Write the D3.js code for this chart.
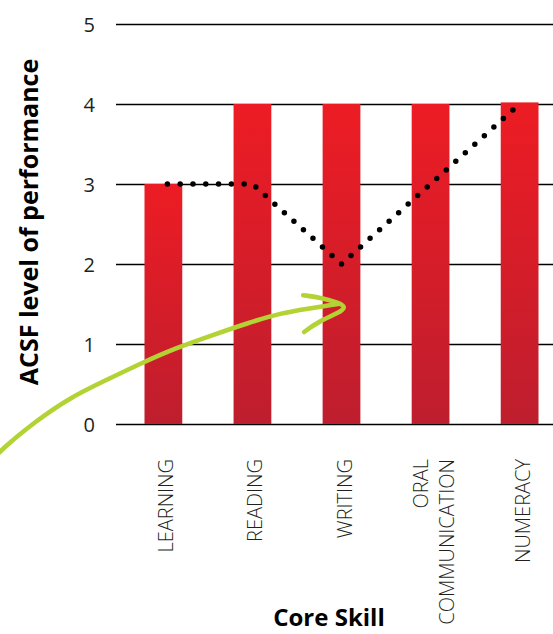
<!DOCTYPE html>
<html>
<head>
<meta charset="utf-8">
<script src="https://cdn.jsdelivr.net/npm/d3@7"></script>
<style>
  body { margin: 0; background: #fff; }
  text { font-family: "Open Sans", "DejaVu Sans", sans-serif; }
</style>
</head>
<body>
<svg id="chart" width="553" height="634"></svg>
<script>
"use strict";

// data
var skills = ["LEARNING", "READING", "WRITING", "ORAL\nCOMMUNICATION", "NUMERACY"]
var barLevels = [3, 4, 4, 4, 4.02]
var profileLevels = [3, 3, 2, 3, 4]
var levelTicks = [0, 1, 2, 3, 4, 5]

// hand drawn arrow, as [skill index, level]
var arrowShaft = [[-1.95, -0.48], [-1.8, -0.3], [-1.44, 0.03], [-1.05, 0.33], [-0.64, 0.55],
    [-0.25, 0.76], [0.14, 0.95], [0.55, 1.11], [0.94, 1.26], [1.33, 1.39], [1.61, 1.44], [1.96, 1.5]]
var arrowHead = [[1.57, 1.61], [1.78, 1.58], [1.98, 1.51], [2.05, 1.46], [1.97, 1.39],
    [1.74, 1.28], [1.58, 1.15]]

var svg = d3.select("#chart")
var width = +svg.attr("width")

var x = d3.scaleBand()
    .domain(skills)
    .range([116, 567])
    .paddingInner(0.576)
    .paddingOuter(0.32)

var y = d3.scaleLinear().domain([0, 5]).range([424, 24])

// skill index -> bar centre, for the line and the arrow
var xi = d3.scaleLinear()
    .domain([0, skills.length - 1])
    .range([x(skills[0]) + x.bandwidth() / 2, x(skills[skills.length - 1]) + x.bandwidth() / 2])

var defs = svg.append("defs")
var grad = defs.append("linearGradient")
    .attr("id", "barGrad")
    .attr("x1", 0).attr("y1", 0).attr("x2", 0).attr("y2", 1)
grad.append("stop").attr("offset", "0%").attr("stop-color", "#ED1C24")
grad.append("stop").attr("offset", "100%").attr("stop-color", "#BE1E2E")

// grid + level labels
var yAxis = d3.axisLeft(y)
    .tickValues(levelTicks)
    .tickSize(-(width - 116))
    .tickPadding(21)
    .tickFormat(d3.format("d"))

var gy = svg.append("g")
    .attr("transform", "translate(116,0)")
    .call(yAxis)
gy.select(".domain").remove()
gy.selectAll(".tick line").attr("stroke", "#000").attr("stroke-width", 1.4)
gy.selectAll(".tick text")
    .attr("fill", "#231F20")
    .style("font-size", "20px")
    .style("font-family", "'Open Sans', sans-serif")
    .attr("dy", "0.36em")

// bars
svg.append("g").selectAll("rect")
    .data(skills)
    .join("rect")
    .attr("x", d => x(d))
    .attr("width", x.bandwidth())
    .attr("y", (d, i) => y(barLevels[i]))
    .attr("height", (d, i) => y(0) - y(barLevels[i]))
    .attr("fill", "url(#barGrad)")

// dotted profile line
var profile = d3.line()
    .x((d, i) => xi(i))
    .y(d => y(d))

svg.append("path")
    .datum(profileLevels)
    .attr("d", profile)
    .attr("fill", "none")
    .attr("stroke", "#000")
    .attr("stroke-width", 5.5)
    .attr("stroke-linecap", "round")
    .attr("stroke-dasharray", "0 12.8")
    .attr("stroke-dashoffset", -4)

// green arrow
var arrowLine = d3.line()
    .x(d => xi(d[0]))
    .y(d => y(d[1]))
    .curve(d3.curveBasis)

svg.append("g")
    .selectAll("path")
    .data([arrowShaft, arrowHead])
    .join("path")
    .attr("d", arrowLine)
    .attr("fill", "none")
    .attr("stroke", "#B3D335")
    .attr("stroke-width", 4.6)
    .attr("stroke-linecap", "round")
    .attr("stroke-linejoin", "round")

// rotated skill labels
var labels = svg.append("g").selectAll("text")
    .data(skills)
    .join("text")
    .attr("transform", d => "translate(" + (x(d) + x.bandwidth() / 2) + ",459) rotate(-90)")
    .attr("text-anchor", "end")
    .attr("fill", "#231F20")
    .style("font-size", "20px")
    .style("font-weight", 300)

labels.each(function (d) {
    var lines = d.split("\n")
    var t = d3.select(this)
    lines.forEach(function (line, k) {
        t.append("tspan")
            .attr("x", 0)
            .attr("y", 10 + (k - (lines.length - 1) / 2) * 26)
            .text(line)
    })
})

// axis titles
svg.append("text")
    .attr("transform", "translate(38,222) rotate(-90)")
    .attr("text-anchor", "middle")
    .attr("fill", "#000")
    .style("font-size", "25px")
    .style("font-weight", 700)
    .text("ACSF level of performance")

svg.append("text")
    .attr("x", 329)
    .attr("y", 626)
    .attr("text-anchor", "middle")
    .attr("fill", "#000")
    .style("font-size", "24px")
    .style("font-weight", 700)
    .text("Core Skill")
</script>
</body>
</html>
